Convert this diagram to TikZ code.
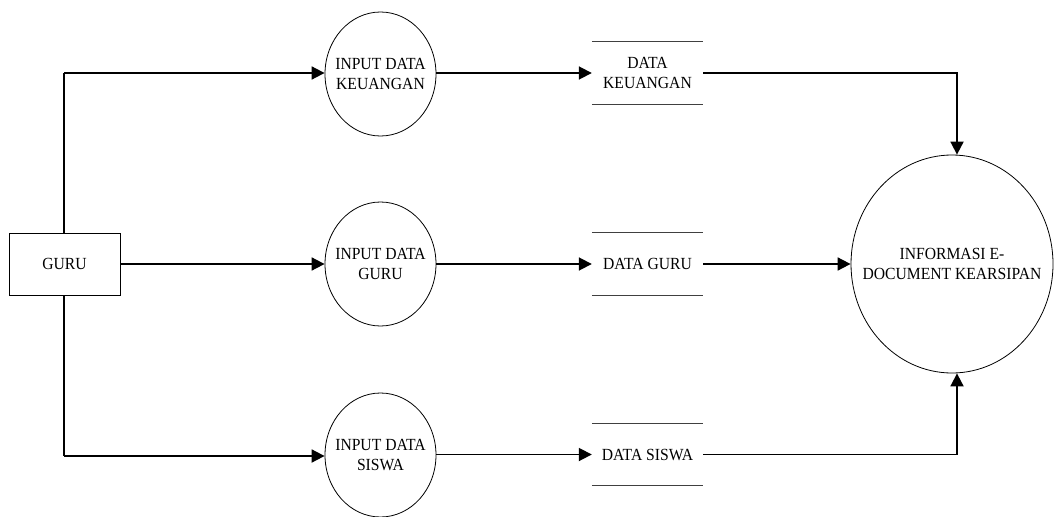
\documentclass[tikz,border=0pt]{standalone}
\usepackage{fontspec}
\setmainfont{Liberation Serif}[FakeStretch=0.92]
\usetikzlibrary{arrows.meta,calc,shapes.geometric}

\tikzset{
  txt/.style={font=\fontsize{17}{20}\selectfont, align=center, inner sep=0pt},
  flow/.style={line width=1.8pt, -{Triangle[length=13pt,width=13pt]}},
  plain flow/.style={line width=1.8pt},
  entity/.style={txt, draw, line width=0.8pt, minimum width=111pt, minimum height=62pt},
  process/.style={draw, ellipse, line width=0.8pt, inner sep=0pt, minimum width=111pt, minimum height=124pt},
  caption/.style={label={[txt]center:#1}},
  store/.style={txt, minimum width=111pt, minimum height=62pt},
  storeline/.style={line width=0.8pt, draw=black!75},
}

\begin{document}
\begin{tikzpicture}[x=1pt, y=-1pt]
  \useasboundingbox (0,0) rectangle (1056,516);
  \clip (0,0) rectangle (1056,516);
  \fill[white] (0,0) rectangle (1056,516);

  % external entity
  \node[entity] (guru) at (64.5,264) {GURU};

  % processes
  \node[process, caption={INPUT DATA\\KEUANGAN}] (p1) at (380.5,74) {};
  \node[process, caption={INPUT DATA\\GURU}] (p2) at (380.5,264) {};
  \node[process, caption={INPUT DATA\\SISWA}] (p3) at (380.5,455) {};

  % data stores
  \node[store] (s1) at (647.5,73) {DATA\\KEUANGAN};
  \node[store] (s2) at (647.5,264) {DATA GURU};
  \node[store] (s3) at (647.5,454.5) {DATA SISWA};
  \foreach \s in {s1,s2,s3}{
    \draw[storeline] (\s.north west) -- (\s.north east);
    \draw[storeline] (\s.south west) -- (\s.south east);
  }

  % output
  \node[process, minimum width=202pt, minimum height=218pt,
        caption={INFORMASI E-\\DOCUMENT KEARSIPAN}] (info) at (952,264) {};

  % flows from the entity
  \coordinate (gtop) at (64,73);
  \coordinate (gbot) at (64,456);
  \draw[plain flow] ([xshift=-0.5pt]guru.north) -- (gtop);
  \draw[flow] (gtop) -- (p1.west |- gtop);
  \draw[flow] (guru.east) -- (p2.west |- guru.east);
  \draw[plain flow] ([xshift=-0.5pt]guru.south) -- (gbot);
  \draw[flow] (gbot) -- (p3.west |- gbot);

  % processes to stores
  \draw[flow] (p1.east |- s1.west) -- (s1.west);
  \draw[flow] (p2.east |- s2.west) -- (s2.west);
  \draw[flow] (p3.east |- s3.west) -- (s3.west);

  % stores to output
  \coordinate (itop) at ([xshift=5pt]info.north);
  \coordinate (ibot) at ([xshift=5pt]info.south);
  \draw[flow] (s1.east) -| (itop);
  \draw[flow] (s2.east) -- (info.west |- s2.east);
  \draw[flow] (s3.east) -| (ibot);
\end{tikzpicture}
\end{document}
